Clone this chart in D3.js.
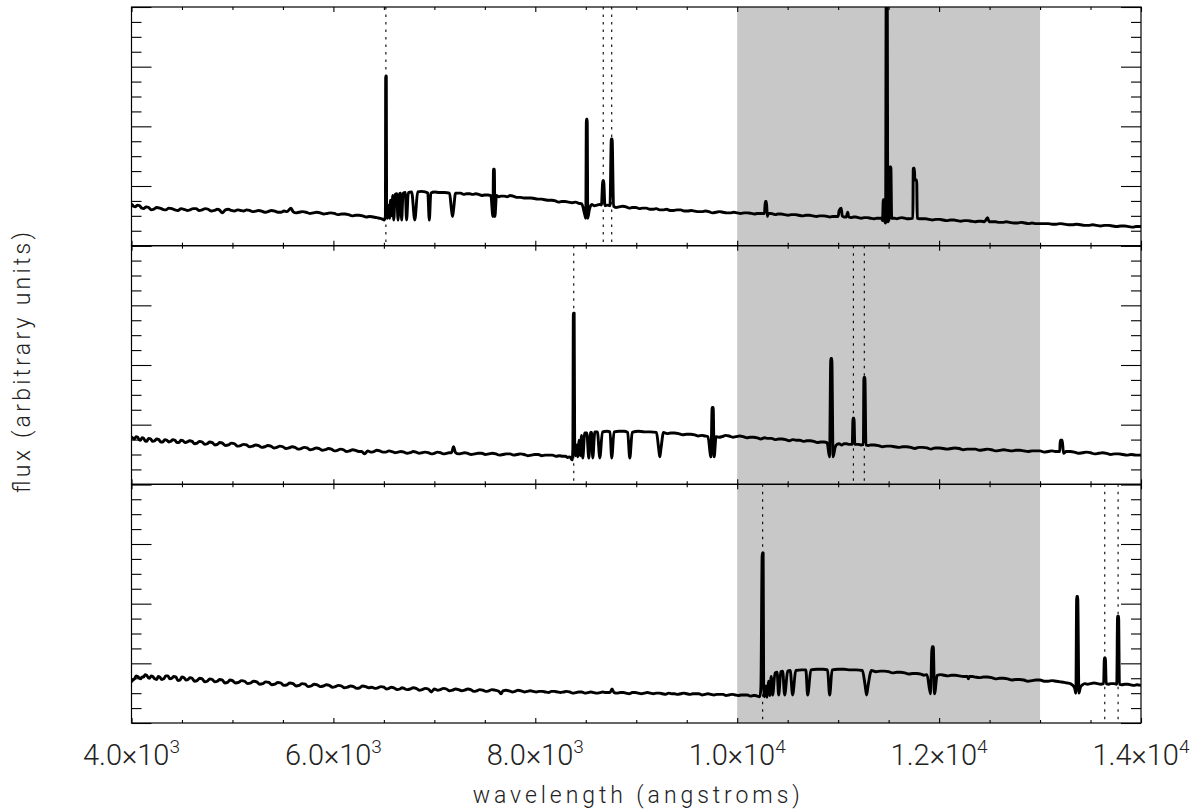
<!DOCTYPE html>
<html>
<head>
<meta charset="utf-8">
<script src="https://cdn.jsdelivr.net/npm/d3@7"></script>
<style>
  body { margin: 0; background: #fff; }
  text { font-family: Roboto, "DejaVu Sans", sans-serif; font-weight: 300; fill: #222; }
</style>
</head>
<body>
<svg id="chart" width="1204" height="811"></svg>
<script>
// ------------------------------
// Data
// ------------------------------
const xDomain = [4000, 14000];
const fluxDomain = [0, 4];
const shadedBand = [10000, 13000];
const xTickValues = [4000, 6000, 8000, 10000, 12000, 14000];
const xTickMantissa = ["4.0", "6.0", "8.0", "1.0", "1.2", "1.4"];
const xTickExponent = ["3", "3", "3", "4", "4", "4"];
const xTitle = "wavelength (angstroms)";
const yTitle = "flux (arbitrary units)";

// dotted markers ([OII], [OIII] 4959, [OIII] 5007) per panel
const lineMarkers = [
  [6520, 8673, 8757],
  [8381, 11151, 11259],
  [10252, 13641, 13773]
];

// top panel spectrum [wavelength, flux]
const spectrumTop = [
  [4000,.70],[4020,.66],[4040,.65],[4060,.68],[4080,.67],[4100,.63],[4120,.62],[4145,.65],[4170,.64],
  [4195,.60],[4220,.61],[4250,.64],[4280,.63],[4310,.61],[4340,.60],[4370,.63],[4400,.62],[4430,.60],
  [4460,.59],[4490,.62],[4520,.61],[4550,.59],[4580,.60],[4610,.62],[4640,.62],[4670,.59],[4700,.60],
  [4730,.62],[4760,.61],[4790,.58],[4820,.59],[4850,.61],[4870,.60],[4900,.55],[4930,.60],[4960,.61],
  [4990,.59],[5020,.58],[5050,.60],[5080,.59],[5110,.58],[5140,.60],[5170,.59],[5200,.57],[5230,.58],
  [5260,.59],[5290,.58],[5320,.56],[5350,.57],[5385,.59],[5420,.58],[5450,.56],[5480,.56],[5510,.58],
  [5540,.57],[5580,.63],[5600,.57],[5630,.55],[5660,.56],[5695,.57],[5730,.56],[5765,.54],[5800,.55],
  [5835,.56],[5870,.55],[5905,.53],[5940,.54],[5975,.55],[6010,.54],[6045,.52],[6080,.53],[6115,.53],
  [6150,.52],[6185,.50],[6220,.51],[6255,.51],[6290,.50],[6325,.48],[6360,.49],[6395,.48],[6430,.47],
  [6455,.46],[6480,.45],[6505,.43],
  [6515,.50],[6518,2.84],[6524,2.84],[6527,.60],[6535,.46],[6548,.68],[6556,.46],[6566,.76],[6578,.50],
  [6588,.84],[6598,.43],[6612,.86],[6628,.87],[6640,.43],[6655,.87],[6665,.88],[6676,.43],[6690,.88],
  [6712,.89],[6725,.43],[6742,.89],[6775,.90],[6806,.43],[6835,.90],[6870,.91],[6910,.90],[6935,.88],
  [6950,.43],[6965,.88],[7000,.90],[7050,.89],[7100,.89],[7150,.88],[7170,.60],[7180,.49],[7190,.60],
  [7210,.88],[7260,.88],[7290,.86],[7320,.87],[7350,.87],[7380,.86],[7410,.87],[7440,.86],[7470,.84],
  [7500,.85],[7530,.85],[7560,.84],[7580,.49],[7586,1.28],
  [7594,1.28],[7600,.49],[7615,.84],[7640,.82],[7660,.83],[7690,.83],[7720,.82],[7750,.84],[7780,.83],
  [7815,.81],[7850,.81],[7885,.80],[7920,.80],[7955,.80],[7990,.79],[8025,.78],[8060,.78],[8095,.77],
  [8130,.76],[8165,.76],[8200,.75],[8230,.73],[8260,.74],[8295,.74],[8330,.73],[8365,.72],[8400,.73],
  [8430,.71],[8460,.70],[8490,.52],[8500,.46],
  [8506,2.12],[8514,2.12],[8520,.46],[8535,.60],[8560,.69],[8585,.67],[8610,.68],[8635,.69],[8655,.68],
  [8669,1.09],[8677,1.09],
  [8690,.67],[8715,.68],[8740,.67],[8753,1.79],[8761,1.79],[8775,.66],[8800,.64],[8830,.65],[8865,.66],
  [8900,.65],[8930,.63],[8960,.64],[8995,.64],[9030,.62],[9065,.63],[9100,.63],[9135,.61],[9170,.61],
  [9200,.62],[9230,.60],[9265,.60],[9300,.61],[9335,.59],[9370,.59],[9405,.60],[9440,.60],[9475,.58],
  [9510,.58],[9545,.59],[9580,.58],[9615,.57],[9650,.57],[9685,.58],[9720,.57],[9755,.55],[9790,.56],
  [9825,.57],[9860,.56],[9895,.55],[9930,.55],[9965,.56],[10000,.55],[10035,.54],[10070,.55],
  [10105,.55],[10140,.54],[10170,.53],[10200,.54],[10235,.54],[10270,.54],
  [10278,.74],[10290,.74],[10298,.49],[10310,.54],[10335,.54],[10360,.53],[10380,.52],[10400,.53],
  [10435,.53],[10470,.52],[10505,.51],[10540,.52],[10575,.52],[10610,.51],[10645,.50],[10680,.51],
  [10715,.51],[10750,.50],[10785,.49],[10820,.50],[10855,.50],[10890,.49],[10920,.48],[10950,.49],
  [10975,.49],[11000,.49],[11010,.59],
  [11030,.63],[11040,.50],[11060,.48],[11080,.48],[11095,.56],[11105,.48],[11130,.47],[11150,.48],
  [11175,.48],[11200,.47],[11230,.46],[11260,.47],[11290,.47],[11320,.46],[11350,.45],[11380,.46],
  [11405,.46],[11430,.46],[11440,.42],[11447,.77],[11457,.77],[11464,.40],[11470,.38],
  [11476,4.3],[11486,4.3],[11492,.40],[11505,.45],[11512,1.32],[11522,1.32],[11530,.46],[11560,.46],
  [11580,.45],[11600,.46],[11630,.47],[11660,.46],[11680,.45],[11700,.45],[11740,.46],[11744,1.30],
  [11755,1.30],[11760,1.10],[11778,1.10],
  [11784,.46],[11805,.45],[11830,.45],[11865,.45],[11900,.44],[11935,.43],[11970,.44],[12005,.44],
  [12040,.43],[12075,.42],[12110,.43],[12145,.43],[12180,.42],[12215,.41],[12250,.42],[12285,.42],
  [12320,.41],[12355,.40],[12390,.41],[12420,.41],[12450,.40],[12480,.47],[12495,.40],[12525,.40],
  [12560,.40],[12595,.39],[12630,.39],[12665,.40],[12700,.39],[12740,.38],
  [12780,.38],[12815,.39],[12850,.38],[12885,.37],[12920,.38],[12960,.37],[13000,.37],[13040,.37],
  [13080,.37],[13120,.36],[13160,.36],[13200,.37],[13240,.36],[13280,.35],[13320,.35],[13360,.36],
  [13400,.35],[13440,.34],[13480,.34],[13520,.35],[13560,.34],[13600,.33],[13640,.34],[13680,.34],
  [13720,.33],[13760,.32],[13800,.33],[13840,.33],[13880,.32],[13920,.31],[13950,.32],[14000,.32]
];

// middle panel spectrum
const spectrumMiddle = [
  [4000,.80],[4015,.77],[4030,.76],[4045,.80],[4060,.79],[4075,.75],[4090,.74],[4105,.78],[4120,.77],
  [4135,.73],[4150,.72],[4170,.77],[4190,.76],[4210,.72],[4230,.73],[4250,.76],[4270,.75],[4290,.71],
  [4310,.71],[4330,.75],[4350,.74],[4370,.71],[4390,.72],[4410,.75],[4430,.74],[4450,.70],[4470,.70],
  [4490,.74],[4510,.73],[4530,.70],[4550,.71],[4575,.73],[4600,.72],[4625,.68],[4650,.69],[4675,.72],
  [4700,.71],[4725,.67],[4750,.68],[4775,.71],[4800,.70],[4825,.66],[4850,.67],[4875,.70],[4900,.69],
  [4930,.65],[4960,.66],[4990,.69],[5020,.68],[5050,.64],[5080,.65],[5110,.67],[5140,.66],[5170,.63],
  [5200,.64],[5230,.66],[5260,.65],[5290,.62],[5320,.63],[5350,.65],[5380,.64],[5410,.61],[5440,.62],
  [5470,.64],[5500,.63],[5530,.60],[5560,.61],[5590,.63],[5620,.62],[5650,.59],[5680,.60],[5710,.62],
  [5740,.61],[5770,.58],[5800,.59],[5830,.61],[5860,.60],[5890,.57],[5920,.58],[5950,.60],[5980,.59],
  [6010,.56],[6040,.57],[6070,.59],[6100,.58],[6130,.55],[6160,.56],[6190,.58],[6220,.57],[6250,.55],
  [6280,.55],[6310,.51],[6340,.56],[6370,.54],[6400,.55],[6430,.57],[6460,.56],[6490,.54],[6520,.54],
  [6550,.56],[6580,.55],[6610,.53],[6640,.54],[6670,.55],[6700,.54],[6730,.52],[6760,.53],[6790,.55],
  [6820,.54],[6850,.52],[6880,.53],[6910,.54],[6940,.53],[6970,.51],[7000,.52],[7030,.54],[7060,.53],
  [7090,.51],[7120,.52],[7145,.53],[7170,.53],[7190,.63],
  [7210,.53],[7240,.51],[7270,.52],[7300,.53],[7330,.52],[7365,.50],[7400,.51],[7435,.52],[7470,.52],
  [7505,.50],[7540,.51],[7575,.52],[7610,.51],[7645,.49],[7680,.50],[7715,.51],[7750,.51],[7785,.49],
  [7820,.50],[7855,.51],[7890,.50],[7925,.48],[7960,.49],[7995,.50],[8030,.50],[8065,.48],[8100,.49],
  [8135,.49],[8170,.49],[8205,.47],[8240,.48],[8270,.47],[8300,.47],[8320,.45],[8340,.46],
  [8365,.41],[8372,.60],[8377,2.87],[8385,2.87],[8390,.70],[8398,.48],[8410,.66],[8420,.46],[8432,.74],
  [8445,.48],[8458,.82],[8470,.44],[8490,.86],[8510,.86],[8530,.44],[8548,.87],[8558,.87],[8569,.44],
  [8590,.88],[8615,.88],[8639,.44],[8665,.88],[8710,.89],[8740,.88],[8757,.44],[8780,.88],[8830,.89],
  [8880,.89],[8915,.87],[8936,.44],[8960,.87],[9020,.89],[9080,.88],[9140,.88],[9200,.87],[9222,.60],
  [9233,.46],[9245,.60],[9270,.87],[9305,.85],[9340,.86],[9380,.86],[9420,.85],[9460,.83],[9500,.84],
  [9540,.84],[9580,.83],[9615,.81],[9650,.82],[9680,.81],[9710,.80],
  [9740,.46],[9752,1.29],[9762,1.29],[9772,.46],[9790,.80],[9820,.79],[9850,.80],[9885,.82],[9920,.81],
  [9955,.79],[9990,.80],[10025,.81],[10060,.80],[10095,.78],[10130,.79],[10165,.79],[10200,.78],
  [10235,.76],[10270,.78],[10305,.77],[10340,.77],[10375,.75],[10410,.76],[10445,.76],[10480,.75],
  [10515,.73],[10550,.75],[10585,.74],[10620,.74],[10655,.72],[10690,.73],[10725,.73],[10760,.72],
  [10795,.70],[10830,.71],[10860,.71],[10890,.70],[10915,.46],[10927,2.11],[10937,2.11],[10950,.46],
  [10970,.62],[10990,.67],[11010,.68],[11035,.66],[11060,.68],[11085,.68],[11110,.67],[11140,.67],
  [11147,1.11],[11157,1.11],[11165,.67],
  [11200,.67],[11225,.66],[11250,.67],[11255,1.79],[11265,1.79],[11275,.66],[11300,.65],[11320,.66],
  [11360,.66],[11400,.65],[11440,.63],[11480,.64],[11520,.64],[11560,.63],[11600,.62],[11640,.63],
  [11680,.63],[11720,.62],[11760,.60],[11800,.62],[11840,.62],[11880,.61],[11920,.59],[11960,.61],
  [12000,.61],[12040,.60],[12080,.59],[12120,.60],[12160,.61],[12200,.60],[12240,.58],[12280,.59],
  [12320,.59],[12360,.59],[12400,.57],[12440,.58],[12480,.59],[12520,.58],[12560,.56],[12600,.57],
  [12640,.58],[12680,.57],[12720,.56],[12760,.57],[12800,.57],[12840,.56],[12880,.55],[12920,.56],
  [12960,.56],[13000,.56],[13040,.54],[13080,.55],[13115,.56],[13150,.55],[13195,.55],[13200,.74],
  [13220,.74],[13232,.52],[13260,.55],[13300,.55],[13340,.54],[13380,.52],[13420,.53],[13460,.54],
  [13500,.53],[13540,.51],[13580,.52],[13620,.53],[13660,.52],[13700,.50],[13740,.51],[13780,.51],
  [13820,.50],[13860,.49],[13900,.50],[13950,.49],[14000,.49]
];

// bottom panel spectrum
const spectrumBottom = [
  [4000,.69],[4015,.72],[4030,.74],[4045,.79],[4060,.78],[4075,.76],[4090,.74],[4105,.77],[4120,.77],
  [4135,.81],[4150,.80],[4165,.76],[4180,.75],[4195,.79],[4210,.78],[4230,.74],[4250,.73],[4265,.78],
  [4280,.77],[4300,.73],[4320,.74],[4340,.79],[4360,.79],[4380,.74],[4400,.75],[4420,.78],[4440,.77],
  [4460,.71],[4480,.72],[4500,.77],[4520,.76],[4540,.72],[4560,.73],[4580,.76],[4600,.75],[4625,.70],
  [4650,.71],[4675,.75],[4700,.74],[4725,.69],[4750,.70],[4775,.74],[4800,.73],[4825,.69],[4850,.70],
  [4875,.73],[4900,.72],[4925,.67],[4950,.68],[4975,.72],[5000,.71],[5030,.67],[5060,.68],[5090,.71],
  [5120,.70],[5150,.66],[5180,.67],[5210,.70],[5240,.69],[5270,.65],[5300,.66],[5330,.69],[5360,.68],
  [5390,.64],[5420,.65],[5450,.68],[5480,.67],[5510,.63],[5540,.64],[5570,.67],[5600,.66],[5630,.62],
  [5660,.63],[5690,.66],[5720,.65],[5750,.61],[5780,.62],[5810,.65],[5840,.64],[5870,.61],[5900,.62],
  [5930,.64],[5960,.63],[5990,.60],[6020,.61],[6050,.63],[6080,.62],[6110,.59],[6140,.60],[6170,.62],
  [6200,.61],[6230,.58],[6260,.59],[6290,.62],[6320,.61],[6350,.59],[6380,.60],[6410,.58],[6440,.59],
  [6470,.61],[6500,.60],[6525,.57],[6550,.58],[6575,.60],[6600,.59],[6630,.56],[6660,.57],[6680,.59],
  [6700,.58],[6730,.56],[6760,.57],[6790,.59],[6820,.58],[6850,.55],[6880,.56],[6910,.58],[6940,.57],
  [6970,.52],[7000,.57],[7030,.55],[7060,.56],[7090,.58],[7120,.57],[7150,.54],[7180,.55],[7210,.57],
  [7240,.56],[7270,.54],[7300,.55],[7330,.57],[7360,.56],[7390,.53],[7420,.54],[7450,.56],[7480,.55],
  [7510,.53],[7540,.54],[7570,.56],[7600,.55],[7640,.53],[7660,.49],[7680,.54],[7710,.55],[7740,.54],
  [7770,.52],[7800,.53],[7830,.55],[7860,.54],[7890,.52],[7920,.53],[7950,.54],[7980,.53],[8010,.52],
  [8040,.53],[8070,.53],[8100,.52],[8130,.51],[8160,.53],[8190,.53],[8220,.52],[8250,.51],[8280,.52],
  [8310,.53],[8340,.52],[8370,.50],[8400,.51],[8430,.52],[8460,.52],[8490,.50],[8520,.51],[8550,.52],
  [8580,.51],[8610,.50],[8640,.51],[8670,.52],[8700,.51],[8740,.51],[8760,.57],[8780,.51],[8810,.50],
  [8840,.51],[8870,.51],[8900,.50],[8930,.49],[8960,.51],[8990,.51],[9020,.50],[9050,.49],[9080,.50],
  [9110,.51],[9140,.50],[9170,.49],[9200,.50],[9230,.50],[9260,.49],[9290,.48],[9320,.50],[9350,.49],
  [9380,.49],[9410,.48],[9440,.49],[9470,.50],[9500,.49],[9530,.48],[9560,.49],[9590,.49],[9620,.49],
  [9650,.47],[9680,.48],[9710,.49],[9740,.48],[9770,.47],[9800,.48],[9830,.48],[9860,.48],[9890,.46],
  [9920,.47],[9950,.48],[9980,.47],[10010,.46],[10040,.47],[10070,.47],[10100,.47],[10130,.45],
  [10160,.46],[10180,.46],[10200,.45],[10225,.44],[10235,.60],[10248,2.85],[10257,2.85],[10262,.66],
  [10270,.44],[10285,.62],
  [10295,.43],[10310,.70],[10322,.46],[10337,.78],[10351,.47],[10375,.84],[10395,.85],[10411,.47],
  [10432,.86],[10450,.87],[10470,.47],[10500,.87],[10525,.88],[10549,.47],[10580,.88],[10640,.89],
  [10680,.89],[10698,.47],[10730,.89],[10790,.90],[10850,.90],[10895,.89],[10916,.47],[10940,.89],
  [11000,.90],[11060,.90],[11120,.89],[11180,.89],[11240,.88],[11268,.62],[11282,.47],[11296,.62],
  [11330,.88],[11375,.86],[11420,.87],[11460,.87],[11500,.86],[11540,.84],[11580,.85],[11620,.85],
  [11660,.84],[11700,.82],[11740,.83],[11780,.83],[11820,.82],[11850,.80],[11880,.81],
  [11915,.49],[11930,1.28],[11942,1.28],[11955,.49],[11980,.80],[12015,.81],[12050,.80],[12085,.79],
  [12120,.80],[12160,.80],[12200,.79],[12240,.78],[12280,.78],[12290,.74],[12300,.78],[12330,.78],
  [12360,.77],[12400,.76],[12440,.77],[12480,.77],[12520,.76],[12560,.74],[12600,.75],[12640,.75],
  [12680,.74],[12720,.72],[12760,.73],[12800,.73],[12840,.72],[12880,.70],[12920,.71],[12960,.72],
  [13000,.72],[13040,.70],[13080,.70],[13120,.71],[13160,.70],[13200,.69],[13240,.68],[13270,.67],
  [13300,.66],[13340,.60],[13355,.50],[13363,2.12],[13373,2.12],[13385,.50],[13400,.60],[13420,.64],
  [13440,.66],[13470,.65],[13500,.66],[13535,.67],[13570,.66],[13600,.65],[13630,.66],[13637,1.09],
  [13647,1.09],[13655,.66],[13680,.65],[13700,.66],[13730,.66],[13760,.65],[13768,1.79],
  [13778,1.79],[13786,.65],[13810,.64],[13840,.65],[13870,.65],[13900,.64],[13930,.63],[13960,.64],
  [14000,.63]
];

const spectra = [spectrumTop, spectrumMiddle, spectrumBottom];

// ------------------------------
// Layout
// ------------------------------
const plotLeft = 131.5, plotRight = 1141;
const plotTop = 7, plotBottom = 723;
const panelHeight = (plotBottom - plotTop) / spectra.length;

const svg = d3.select("#chart");
const x = d3.scaleLinear().domain(xDomain).range([plotLeft, plotRight]);

// grey band across all panels
svg.append("rect")
  .attr("x", x(shadedBand[0]))
  .attr("y", plotTop)
  .attr("width", x(shadedBand[1]) - x(shadedBand[0]))
  .attr("height", plotBottom - plotTop)
  .attr("fill", "#c8c8c8");

const majorX = xTickValues;
const minorX = d3.range(xDomain[0], xDomain[1] + 1, 500).filter(v => !majorX.includes(v));
const majorY = d3.range(fluxDomain[0], fluxDomain[1] + 0.001, 1);
const minorY = d3.range(fluxDomain[0], fluxDomain[1] + 0.001, 0.25).filter(v => v % 1 !== 0);

spectra.forEach((spec, i) => {
  const top = plotTop + i * panelHeight;
  const bottom = top + panelHeight;
  const y = d3.scaleLinear().domain(fluxDomain).range([bottom, top]);
  const g = svg.append("g");

  g.append("clipPath").attr("id", "clip" + i)
    .append("rect")
    .attr("x", plotLeft).attr("y", top)
    .attr("width", plotRight - plotLeft).attr("height", panelHeight);

  // dotted line markers
  g.selectAll(".marker")
    .data(lineMarkers[i])
    .enter()
    .append("line")
    .attr("x1", d => x(d)).attr("x2", d => x(d))
    .attr("y1", top).attr("y2", bottom)
    .attr("stroke", "#000")
    .attr("stroke-width", 1.1)
    .attr("stroke-dasharray", "2.5,5");

  const line = d3.line().curve(d3.curveMonotoneX).x(d => x(d[0])).y(d => y(d[1]));
  g.append("path")
    .datum(spec)
    .attr("clip-path", `url(#clip${i})`)
    .attr("d", line)
    .attr("fill", "none")
    .attr("stroke", "#000")
    .attr("stroke-width", 2.9)
    .attr("stroke-linejoin", "round");

  // ticks, pointing inward on every side
  const addAxis = (axis, tx, ty) => {
    const a = g.append("g").attr("transform", `translate(${tx},${ty})`).call(axis);
    a.select(".domain").remove();
    a.selectAll("text").remove();
    a.selectAll("line").attr("stroke", "#000").attr("stroke-width", 1.1);
  };
  addAxis(d3.axisBottom(x).tickValues(majorX).tickSize(-5), 0, bottom);
  addAxis(d3.axisBottom(x).tickValues(minorX).tickSize(-3), 0, bottom);
  addAxis(d3.axisTop(x).tickValues(majorX).tickSize(-5), 0, top);
  addAxis(d3.axisTop(x).tickValues(minorX).tickSize(-3), 0, top);
  addAxis(d3.axisLeft(y).tickValues(majorY).tickSize(-20), plotLeft, 0);
  addAxis(d3.axisLeft(y).tickValues(minorY).tickSize(-10), plotLeft, 0);
  addAxis(d3.axisRight(y).tickValues(majorY).tickSize(-20), plotRight, 0);
  addAxis(d3.axisRight(y).tickValues(minorY).tickSize(-10), plotRight, 0);

  g.append("rect")
    .attr("x", plotLeft).attr("y", top)
    .attr("width", plotRight - plotLeft).attr("height", panelHeight)
    .attr("fill", "none")
    .attr("stroke", "#000")
    .attr("stroke-width", 1.2);
});

// x tick labels on the bottom panel
const labels = svg.append("g");
xTickValues.forEach((v, i) => {
  const t = labels.append("text")
    .attr("x", x(v))
    .attr("y", 765)
    .attr("text-anchor", "middle")
    .attr("font-size", 29);
  t.append("tspan").text(xTickMantissa[i] + "×10");
  t.append("tspan").attr("dy", -12).attr("font-size", 19).text(xTickExponent[i]);
});

svg.append("text")
  .attr("x", (plotLeft + plotRight) / 2)
  .attr("y", 803)
  .attr("text-anchor", "middle")
  .attr("font-size", 23)
  .attr("textLength", 327)
  .attr("lengthAdjust", "spacing")
  .text(xTitle);

svg.append("text")
  .attr("transform", "translate(30,362.5) rotate(-90)")
  .attr("text-anchor", "middle")
  .attr("font-size", 23)
  .attr("textLength", 261)
  .attr("lengthAdjust", "spacing")
  .text(yTitle);
</script>
</body>
</html>
